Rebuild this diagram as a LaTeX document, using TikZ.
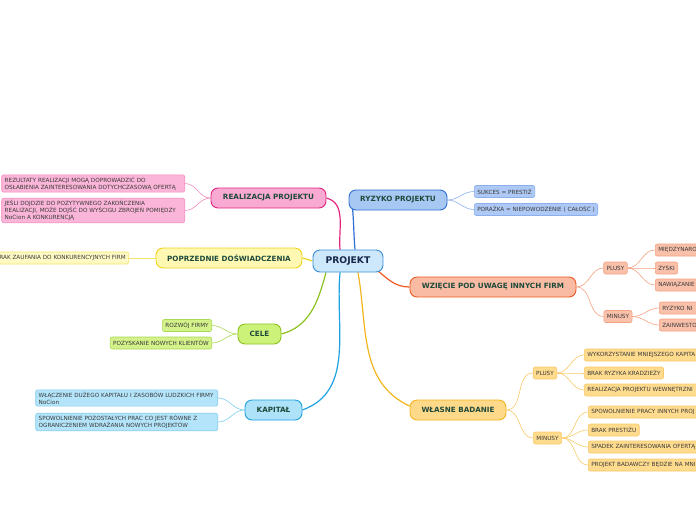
\documentclass[tikz,border=0pt]{standalone}
\usepackage{fontspec}
\setmainfont{DejaVu Sans}
\usetikzlibrary{positioning, backgrounds}
\definecolor{ctext}{HTML}{1E4A3C}
\definecolor{cleaf}{HTML}{3A3A3A}
\definecolor{cnavy}{HTML}{15284B}
\definecolor{cproj}{HTML}{3A8DD8}
\definecolor{cprojf}{HTML}{CDE8FA}
\definecolor{cryz}{HTML}{2E6FD6}
\definecolor{cryzf}{HTML}{A8C8F4}
\definecolor{cryzl}{HTML}{AEC9F5}
\definecolor{cryzb}{HTML}{8AB0EE}
\definecolor{cpink}{HTML}{E2247F}
\definecolor{cpinkf}{HTML}{F9AAD2}
\definecolor{cpinkl}{HTML}{FBB5D8}
\definecolor{cpinkb}{HTML}{F28CC0}
\definecolor{cyel}{HTML}{EDD21B}
\definecolor{cyelf}{HTML}{FFF8B3}
\definecolor{cyell}{HTML}{FFF9C4}
\definecolor{cyelb}{HTML}{F5E36A}
\definecolor{cgreen}{HTML}{8CC21F}
\definecolor{cgreenf}{HTML}{CDF27A}
\definecolor{cgreenl}{HTML}{D4F28A}
\definecolor{cgreenb}{HTML}{A9D855}
\definecolor{ccyan}{HTML}{1DA1E0}
\definecolor{ccyanf}{HTML}{ADE2F8}
\definecolor{ccyanl}{HTML}{B3E4FA}
\definecolor{ccyanb}{HTML}{7FCDEF}
\definecolor{corange}{HTML}{EE5A24}
\definecolor{corangef}{HTML}{F9BBA3}
\definecolor{corangel}{HTML}{F9C0AA}
\definecolor{corangeb}{HTML}{F4A283}
\definecolor{cgold}{HTML}{F2B51E}
\definecolor{cgoldf}{HTML}{FFD98A}
\definecolor{cgoldl}{HTML}{FFDB8E}
\definecolor{cgoldb}{HTML}{F7C968}
\tikzset{
  main/.style 2 args={fill=#1, draw=#2, rounded corners=7pt, line width=0.9pt,
    font=\bfseries\fontsize{7.2}{8}\selectfont, text=ctext, minimum height=20pt, inner xsep=6pt},
  leaf/.style 2 args={fill=#1, draw=#2, rounded corners=2pt, line width=0.6pt,
    font=\fontsize{5.7}{7}\selectfont, text=cleaf, minimum height=12pt, inner xsep=3pt,
    inner ysep=2pt, align=left},
  branch/.style={draw=#1, line width=1.2pt},
  twig/.style={draw=#1, line width=0.6pt},
}
\begin{document}
\begin{tikzpicture}[x=1pt, y=1pt]
  \useasboundingbox (0,0) rectangle (696,-520);
  \clip (0,0) rectangle (696,-520);
  % centre
  \node[main={cprojf}{cproj}, text=cnavy, font=\bfseries\fontsize{9.2}{10}\selectfont,
    minimum height=22pt, minimum width=70pt] (p) at (348,-261) {PROJEKT};
  % ryzyko
  \node[main={cryzf}{cryz}, minimum width=98pt] (ry) at (398,-200) {RYZYKO PROJEKTU};
  \node[leaf={cryzl}{cryzb}, anchor=west] (ry1) at (474,-191.5) {SUKCES = PRESTIŻ};
  \node[leaf={cryzl}{cryzb}, anchor=west] (ry2) at (474,-209.5) {PORAŻKA = NIEPOWODZENIE ( CAŁOŚĆ )};
  % realizacja
  \node[main={cpinkf}{cpink}, minimum width=115pt] (rp) at (268.5,-198) {REALIZACJA PROJEKTU};
  \node[leaf={cpinkl}{cpinkb}, anchor=east, text width=177pt] (rp1) at (185,-183.5)
    {REZULTATY REALIZACJI MOGĄ DOPROWADZIĆ DO\\OSŁABIENIA ZAINTERESOWANIA DOTYCHCZASOWĄ OFERTĄ};
  \node[leaf={cpinkl}{cpinkb}, anchor=east, text width=177pt] (rp2) at (185,-210.5)
    {JEŚLI DOJDZIE DO POZYTYWNEGO ZAKOŃCZENIA\\REALIZACJI, MOŻE DOJŚĆ DO WYŚCIGU ZBROJEŃ POMIĘDZY\\NoCion A KONKURENCJĄ};
  % doswiadczenia
  \node[main={cyelf}{cyel}, minimum width=146pt] (pd) at (229,-258) {POPRZEDNIE DOŚWIADCZENIA};
  \node[leaf={cyell}{cyelb}, anchor=east] (pd1) at (129,-258) {BRAK ZAUFANIA DO KONKURENCYJNYCH FIRM};
  % cele
  \node[main={cgreenf}{cgreen}, minimum width=43pt] (ce) at (259.5,-334) {CELE};
  \node[leaf={cgreenl}{cgreenb}, anchor=east] (ce1) at (212,-325.5) {ROZWÓJ FIRMY};
  \node[leaf={cgreenl}{cgreenb}, anchor=east] (ce2) at (212,-343) {POZYSKANIE NOWYCH KLIENTÓW};
  % kapital
  \node[main={ccyanf}{ccyan}, minimum width=57pt] (ka) at (273.5,-410) {KAPITAŁ};
  \node[leaf={ccyanl}{ccyanb}, anchor=east, text width=176pt] (ka1) at (218,-398)
    {WŁĄCZENIE DUŻEGO KAPITAŁU I ZASOBÓW LUDZKICH FIRMY\\NoCion};
  \node[leaf={ccyanl}{ccyanb}, anchor=east, text width=176pt] (ka2) at (218,-422)
    {SPOWOLNIENIE POZOSTAŁYCH PRAC CO JEST RÓWNE Z\\OGRANICZENIEM WDRAŻANIA NOWYCH PROJEKTÓW};
  % inne firmy
  \node[main={corangef}{corange}, minimum width=166pt] (wz) at (493,-287) {WZIĘCIE POD UWAGĘ INNYCH FIRM};
  \node[leaf={corangel}{corangeb}] (wzp) at (615.5,-268) {PLUSY};
  \node[leaf={corangel}{corangeb}] (wzm) at (618,-316.5) {MINUSY};
  \node[leaf={corangel}{corangeb}, anchor=west, text width=60pt] (wzp1) at (655,-250) {MIĘDZYNARO};
  \node[leaf={corangel}{corangeb}, anchor=west] (wzp2) at (655,-268) {ZYSKI};
  \node[leaf={corangel}{corangeb}, anchor=west, text width=60pt] (wzp3) at (655,-285) {NAWIĄZANIE};
  \node[leaf={corangel}{corangeb}, anchor=west, text width=60pt] (wzm1) at (659,-308) {RYZYKO NI};
  \node[leaf={corangel}{corangeb}, anchor=west, text width=60pt] (wzm2) at (659,-325) {ZAINWESTO};
  % wlasne badanie
  \node[main={cgoldf}{cgold}, minimum width=96pt] (wb) at (458,-410) {WŁASNE BADANIE};
  \node[leaf={cgoldl}{cgoldb}] (wbp) at (545,-373) {PLUSY};
  \node[leaf={cgoldl}{cgoldb}] (wbm) at (547.5,-438) {MINUSY};
  \node[leaf={cgoldl}{cgoldb}, anchor=west, text width=140pt] (wbp1) at (584,-355) {WYKORZYSTANIE MNIEJSZEGO KAPITA};
  \node[leaf={cgoldl}{cgoldb}, anchor=west] (wbp2) at (584,-373) {BRAK RYZYKA KRADZIEŻY};
  \node[leaf={cgoldl}{cgoldb}, anchor=west, text width=140pt] (wbp3) at (584,-390) {REALIZACJA PROJEKTU WEWNĘTRZNI};
  \node[leaf={cgoldl}{cgoldb}, anchor=west, text width=140pt] (wbm1) at (588,-412) {SPOWOLNIENIE PRACY INNYCH PROJ};
  \node[leaf={cgoldl}{cgoldb}, anchor=west] (wbm2) at (588,-430) {BRAK PRESTIŻU};
  \node[leaf={cgoldl}{cgoldb}, anchor=west, text width=140pt] (wbm3) at (588,-447) {SPADEK ZAINTERESOWANIA OFERTĄ};
  \node[leaf={cgoldl}{cgoldb}, anchor=west, text width=140pt] (wbm4) at (588,-465) {PROJEKT BADAWCZY BĘDZIE NA MNI};
  % connectors
  \begin{scope}[on background layer]
    \draw[branch=cpink] (rp.east) to[out=-15,in=95] ([xshift=-8pt]p.north);
    \draw[branch=cryz] ([xshift=7pt]p.north) to[out=95,in=-85] ([xshift=4pt,yshift=2pt]ry.south west);
    \draw[branch=cyel] (p.west) -- (pd.east);
    \draw[branch=corange] ([xshift=-6pt,yshift=2pt]p.south east) to[out=-40,in=180] (wz.west);
    \draw[branch=cgreen] ([xshift=-22pt]p.south) to[out=-105,in=15] (ce.east);
    \draw[branch=ccyan] ([xshift=-8pt]p.south) to[out=-95,in=20] (ka.east);
    \draw[branch=cgold] ([xshift=10pt]p.south) to[out=-80,in=155] ([yshift=4pt]wb.west);
    \foreach \t in {ry1,ry2} \draw[twig=cryzb] (ry.east) to[out=0,in=180] (\t.west);
    \foreach \t in {rp1,rp2} \draw[twig=cpinkb] (rp.west) to[out=180,in=0] (\t.east);
    \draw[twig=cyelb] (pd.west) -- (pd1.east);
    \foreach \t in {ce1,ce2} \draw[twig=cgreenb] (ce.west) to[out=180,in=0] (\t.east);
    \foreach \t in {ka1,ka2} \draw[twig=ccyanb] (ka.west) to[out=180,in=0] (\t.east);
    \foreach \t in {wzp,wzm} \draw[twig=corangeb] (wz.east) to[out=0,in=180] (\t.west);
    \foreach \t in {wzp1,wzp2,wzp3} \draw[twig=corangeb] (wzp.east) to[out=0,in=180] (\t.west);
    \foreach \t in {wzm1,wzm2} \draw[twig=corangeb] (wzm.east) to[out=0,in=180] (\t.west);
    \foreach \t in {wbp,wbm} \draw[twig=cgoldb] (wb.east) to[out=0,in=180] (\t.west);
    \foreach \t in {wbp1,wbp2,wbp3} \draw[twig=cgoldb] (wbp.east) to[out=0,in=180] (\t.west);
    \foreach \t in {wbm1,wbm2,wbm3,wbm4} \draw[twig=cgoldb] (wbm.east) to[out=0,in=180] (\t.west);
  \end{scope}
\end{tikzpicture}
\end{document}
